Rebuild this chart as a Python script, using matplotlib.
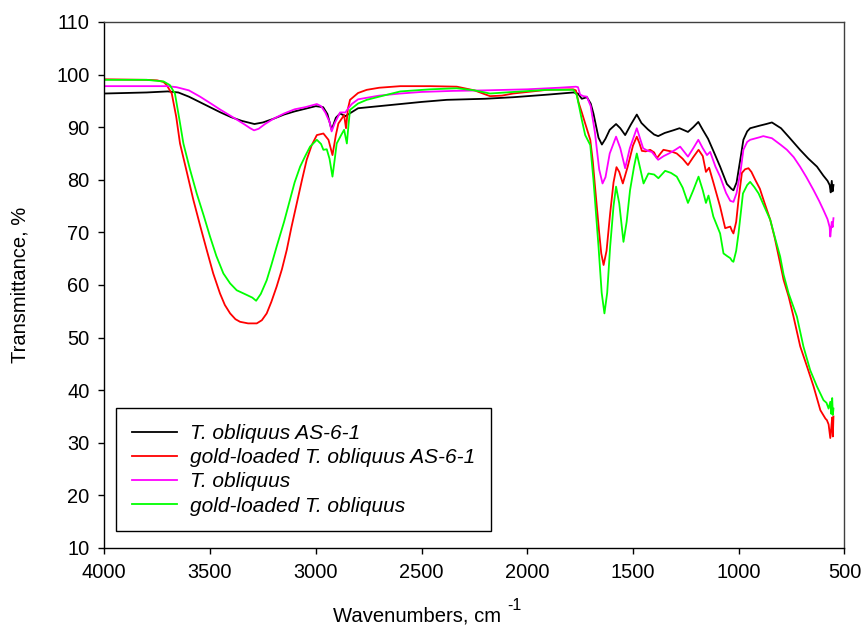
import matplotlib
matplotlib.use("Agg")
import matplotlib.pyplot as plt

plt.rcParams['font.family'] = ['Liberation Sans', 'DejaVu Sans']

# T. obliquus AS-6-1
wn_black = [4000, 3800, 3700, 3650, 3600, 3550, 3500, 3450, 3400, 3350, 3290, 3250, 3200, 3150,
            3100, 3050, 3000, 2965, 2945, 2925, 2905, 2885, 2860, 2840, 2800, 2700, 2600, 2500,
            2380, 2200, 2065, 1900, 1782, 1760, 1742, 1718, 1700, 1687, 1663, 1647, 1630, 1610,
            1580, 1560, 1537, 1510, 1482, 1460, 1430, 1400, 1381, 1350, 1310, 1280, 1240, 1215,
            1191, 1170, 1145, 1120, 1088, 1056, 1035, 1025, 1010, 990, 978, 960, 946, 900, 870,
            843, 800, 760, 710, 670, 630, 600, 580, 570, 565, 560, 556, 552]
t_black = [96.4, 96.6, 96.8, 96.6, 95.8, 94.8, 93.8, 92.8, 91.9, 91.2, 90.6, 90.9, 91.6, 92.4,
           93.0, 93.5, 94.0, 93.8, 92.5, 89.5, 91.8, 92.6, 92.1, 92.6, 93.6, 94.0, 94.4, 94.8,
           95.2, 95.4, 95.7, 96.2, 96.6, 96.4, 95.4, 95.7, 94.5, 92.6, 88.0, 86.7, 87.8, 89.5,
           90.6, 89.8, 88.5, 90.5, 92.4, 90.8, 89.6, 88.6, 88.3, 88.9, 89.4, 89.8, 89.1, 90.0,
           91.0, 89.5, 87.8, 85.5, 82.5, 79.2, 78.3, 78.0, 79.5, 84.5, 87.6, 89.2, 89.8, 90.3, 90.6,
           90.9, 89.8, 88.0, 85.7, 84.0, 82.5, 80.8, 79.8, 79.0, 77.6, 79.8, 77.8, 79.0]

# gold-loaded T. obliquus AS-6-1
wn_red = [4000, 3800, 3750, 3720, 3705, 3681, 3660, 3642, 3610, 3579, 3545, 3516, 3485, 3453,
          3430, 3405, 3380, 3358, 3320, 3279, 3255, 3232, 3210, 3185, 3160, 3137, 3115, 3090,
          3065, 3043, 3020, 2995, 2964, 2940, 2921, 2905, 2893, 2866, 2857, 2848, 2838, 2800,
          2759, 2700, 2600, 2458, 2333, 2250, 2176, 2120, 2067, 1907, 1783, 1770, 1758, 1742,
          1726, 1702, 1690, 1678, 1660, 1650, 1639, 1625, 1608, 1592, 1578, 1565, 1548, 1525,
          1500, 1482, 1470, 1458, 1440, 1419, 1400, 1387, 1370, 1356, 1320, 1293, 1265, 1240,
          1215, 1190, 1170, 1155, 1140, 1120, 1088, 1064, 1040, 1032, 1025, 1012, 1001, 985,
          970, 954, 940, 922, 900, 883, 851, 830, 804, 788, 764, 741, 709, 677, 646, 614, 590,
          583, 575, 567, 562, 558, 555, 552]
t_red = [99.1, 99.0, 98.9, 98.6, 98.0, 96.4, 92.0, 86.9, 81.5, 76.2, 71.0, 66.7, 62.2, 58.4,
         56.2, 54.6, 53.5, 53.0, 52.7, 52.7, 53.3, 54.6, 56.8, 59.7, 63.0, 66.7, 71.0, 75.5,
         80.0, 83.8, 86.5, 88.5, 88.8, 87.6, 84.7, 88.5, 90.7, 92.3, 89.8, 93.5, 95.2, 96.5,
         97.1, 97.5, 97.8, 97.8, 97.7, 97.0, 95.9, 96.0, 96.4, 97.1, 97.2, 97.0, 94.8, 92.8,
         90.7, 87.6, 83.5, 78.0, 70.0, 66.0, 63.8, 66.5, 73.6, 79.5, 82.4, 81.5, 79.3, 82.5,
         86.5, 88.2, 87.0, 85.5, 85.4, 85.7, 85.2, 84.1, 85.0, 85.7, 85.4, 85.0, 84.0, 82.8,
         84.3, 85.7, 84.5, 81.5, 82.3, 79.5, 74.9, 70.8, 71.1, 70.3, 69.8, 72.0, 76.2, 81.3,
         82.0, 82.2, 81.5, 80.0, 78.3, 76.2, 72.4, 69.0, 64.1, 61.0, 57.8, 54.0, 48.3, 44.5,
         40.7, 36.2, 34.6, 34.3, 33.5, 30.9, 33.0, 34.8, 31.2, 35.0]

# T. obliquus
wn_mag = [4000, 3800, 3700, 3658, 3600, 3547, 3500, 3450, 3421, 3380, 3340, 3310, 3292, 3270,
          3240, 3200, 3150, 3100, 3050, 2995, 2975, 2955, 2935, 2925, 2910, 2885, 2860, 2848,
          2830, 2800, 2700, 2600, 2500, 2350, 2200, 2000, 1850, 1770, 1760, 1750, 1735, 1718,
          1700, 1680, 1660, 1644, 1630, 1610, 1580, 1560, 1537, 1515, 1482, 1452, 1430, 1411,
          1381, 1355, 1330, 1300, 1277, 1240, 1215, 1191, 1170, 1150, 1135, 1110, 1088, 1060,
          1040, 1025, 1010, 990, 978, 960, 946, 900, 884, 843, 800, 772, 740, 710, 680, 647,
          620, 600, 580, 570, 567, 560, 556, 552]
t_mag = [97.8, 97.8, 97.8, 97.6, 97.0, 95.8, 94.6, 93.3, 92.6, 91.6, 90.6, 89.8, 89.4, 89.7,
         90.6, 91.6, 92.6, 93.4, 93.8, 94.4, 94.0, 92.8, 91.0, 89.2, 90.8, 92.8, 92.8, 93.5,
         94.4, 95.3, 96.0, 96.4, 96.7, 96.9, 97.0, 97.2, 97.5, 97.7, 97.6, 96.2, 95.9, 95.8,
         94.0, 89.0, 82.0, 79.3, 80.5, 85.0, 88.2, 86.0, 82.2, 86.0, 89.8, 86.0, 85.5, 85.3,
         83.8, 84.5, 85.0, 85.7, 86.3, 84.4, 86.0, 87.6, 86.0, 84.7, 85.3, 82.5, 80.6, 77.5,
         76.0, 75.8, 77.5, 82.0, 85.7, 87.2, 87.6, 88.1, 88.3, 87.9, 86.6, 85.7, 84.3, 82.5,
         80.5, 78.1, 76.0, 74.3, 72.5, 71.0, 69.2, 72.0, 71.0, 72.7]

# gold-loaded T. obliquus
wn_green = [4000, 3800, 3720, 3690, 3666, 3645, 3626, 3595, 3563, 3530, 3500, 3470, 3437, 3405,
            3374, 3326, 3300, 3282, 3260, 3232, 3210, 3185, 3150, 3122, 3100, 3074, 3050, 3027,
            2995, 2975, 2964, 2948, 2935, 2921, 2910, 2901, 2880, 2866, 2853, 2845, 2838, 2800,
            2759, 2700, 2600, 2458, 2333, 2250, 2176, 2065, 1907, 1782, 1766, 1755, 1742, 1726,
            1702, 1687, 1663, 1648, 1635, 1622, 1608, 1592, 1580, 1565, 1545, 1530, 1514, 1495,
            1482, 1465, 1450, 1427, 1400, 1380, 1348, 1320, 1293, 1265, 1240, 1215, 1190, 1170,
            1155, 1143, 1120, 1088, 1072, 1055, 1040, 1032, 1025, 1012, 1001, 980, 960, 946, 926,
            906, 880, 851, 830, 804, 788, 764, 725, 694, 662, 630, 599, 585, 575, 567, 562, 558,
            555, 552]
t_green = [99.0, 99.0, 98.7, 98.0, 96.4, 91.5, 86.9, 82.0, 77.4, 73.2, 69.2, 65.5, 62.2, 60.3,
           59.0, 58.1, 57.6, 57.0, 58.3, 60.9, 63.8, 67.3, 72.0, 76.2, 79.5, 82.5, 84.5, 86.3,
           87.6, 86.8, 85.7, 85.8, 84.0, 80.6, 84.0, 86.9, 88.5, 89.5, 86.9, 90.5, 93.3, 94.5,
           95.2, 95.8, 96.8, 97.2, 97.4, 97.0, 96.4, 96.7, 97.1, 97.1, 96.1, 94.0, 91.4, 88.5,
           86.6, 80.0, 67.3, 58.5, 54.6, 58.5, 67.3, 75.0, 78.7, 75.5, 68.2, 72.0, 78.0, 82.5,
           85.0, 82.0, 79.3, 81.2, 81.0, 80.3, 81.7, 81.3, 80.6, 78.5, 75.6, 78.0, 80.6, 78.0,
           75.6, 77.0, 73.0, 69.8, 66.0, 65.5, 65.1, 64.6, 64.4, 66.5, 69.8, 77.4, 79.0, 79.6, 78.6,
           77.4, 75.0, 72.4, 69.2, 65.4, 62.0, 58.4, 54.0, 48.3, 43.8, 40.7, 38.1, 37.6, 36.5, 37.8,
           35.5, 38.5, 35.3, 36.5]

labels = ['T. obliquus AS-6-1', 'gold-loaded T. obliquus AS-6-1',
          'T. obliquus', 'gold-loaded T. obliquus']

fig = plt.figure(figsize=(8.67, 6.28), dpi=100)
ax = fig.add_axes([0.1203, 0.1274, 0.8537, 0.8376])

lw = 1.3
ax.plot(wn_black, t_black, color='black', lw=lw, label=labels[0])
ax.plot(wn_red, t_red, color='#ff0000', lw=lw, label=labels[1])
ax.plot(wn_mag, t_mag, color='#ff00ff', lw=lw, label=labels[2])
ax.plot(wn_green, t_green, color='#00ff00', lw=lw, label=labels[3])

ax.set_xlim(4000, 500)
ax.set_ylim(10, 110)
ax.set_xticks(range(4000, 499, -500))
ax.set_yticks(range(10, 111, 10))
ax.tick_params(direction='out', length=4.5, width=1, labelsize=14.4, colors='black', pad=6)
for s in ax.spines.values():
    s.set_linewidth(1.0)
for s in ('top', 'right'):
    ax.spines[s].set_color('#404040')

ax.set_ylabel('Transmittance, %', fontsize=14.5, labelpad=19)
# x label with a plain hyphen superscript, as in the original
fig.text(333 / 867, 1 - 622 / 628, 'Wavenumbers, cm', fontsize=14.6,
         ha='left', va='baseline')
fig.text(507 / 867, 1 - 610 / 628, '-1', fontsize=11.5, ha='left', va='baseline')

leg = ax.legend(loc='lower left', bbox_to_anchor=(0.0158, 0.032), borderaxespad=0,
                fancybox=False, edgecolor='black', framealpha=1,
                prop={'style': 'italic', 'size': 15}, handlelength=2.2,
                labelspacing=0.25, borderpad=0.75, handletextpad=0.62)
leg.get_frame().set_linewidth(1.0)

fig.savefig('out.png', dpi=100)
